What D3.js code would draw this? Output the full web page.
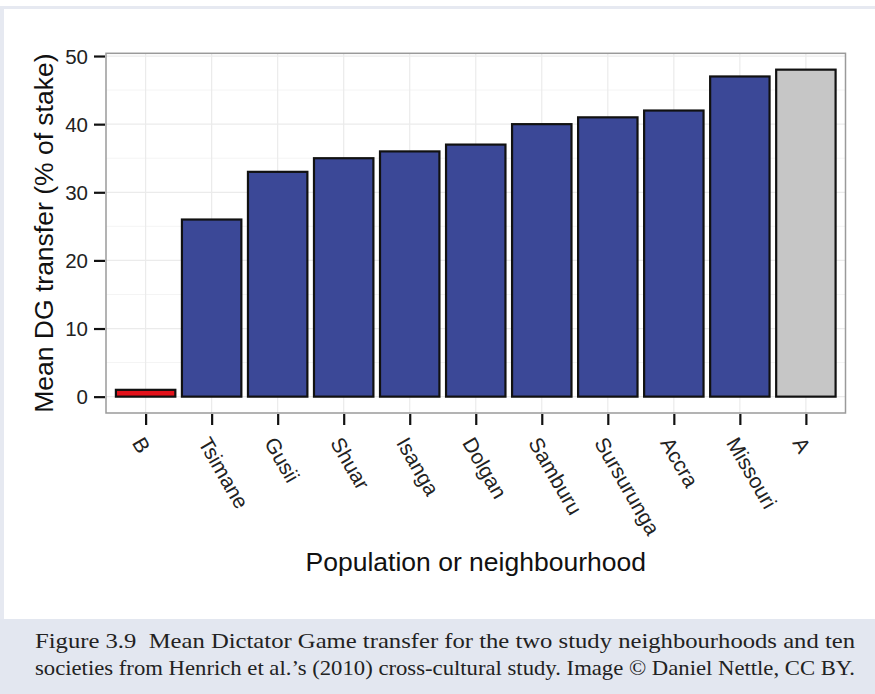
<!DOCTYPE html>
<html><head><meta charset="utf-8">
<script src="https://cdn.jsdelivr.net/npm/d3@7"></script>
<style>html,body{margin:0;padding:0;background:#fff;}svg{display:block;}</style>
</head><body>
<script>
const categories = ["B","Tsimane","Gusii","Shuar","Isanga","Dolgan","Samburu","Sursurunga","Accra","Missouri","A"];
const values = [1,26,33,35,36,37,40,41,42,47,48];
const groups = ["B","other","other","other","other","other","other","other","other","other","A"];
const yTicks = [0,10,20,30,40,50];
const yMinor = [5,15,25,35,45];
const yTitle = "Mean DG transfer (% of stake)";
const xTitle = "Population or neighbourhood";
const captionLines = [
  "Figure 3.9  Mean Dictator Game transfer for the two study neighbourhoods and ten",
  "societies from Henrich et al.\u2019s (2010) cross-cultural study. Image \u00A9 Daniel Nettle, CC BY."
];

const W = 875, H = 694;
const svg = d3.select("body").append("svg").attr("width", W).attr("height", H);

// page frame
svg.append("rect").attr("x",0).attr("y",0).attr("width",W).attr("height",H).attr("fill","#fff");
svg.append("rect").attr("x",0).attr("y",6).attr("width",W).attr("height",3).attr("fill","#e6e9f1");
svg.append("rect").attr("x",0).attr("y",6).attr("width",4).attr("height",H-6).attr("fill","#e6e9f1");
svg.append("rect").attr("x",0).attr("y",619).attr("width",W).attr("height",H-619).attr("fill","#e3e7f0");

const panel = {left:106, right:845.5, top:53.3, bottom:413};
const ext = d3.extent([0, d3.max(values)]);
const pad = (ext[1]-ext[0])*0.05;
const y = d3.scaleLinear().domain([ext[0]-pad, ext[1]+pad]).range([panel.bottom, panel.top]);
const n = categories.length;
const step = (panel.right-panel.left)/(n-1+1.2);
const xc = d3.scalePoint().domain(categories).range([panel.left+0.6*step, panel.right-0.6*step]);
const bw = step*0.9;

const colour = d3.scaleOrdinal().domain(["B","other","A"]).range(["#e3121b","#3b4897","#c6c6c6"]);

// grid
const g = svg.append("g");
g.selectAll(".ymin").data(yMinor).join("line")
  .attr("x1",panel.left).attr("x2",panel.right)
  .attr("y1",d=>y(d)).attr("y2",d=>y(d)).attr("stroke","#f4f4f4").attr("stroke-width",1);
g.selectAll(".ymaj").data(yTicks).join("line")
  .attr("x1",panel.left).attr("x2",panel.right)
  .attr("y1",d=>y(d)).attr("y2",d=>y(d)).attr("stroke","#ebebeb").attr("stroke-width",1.2);
g.selectAll(".xmaj").data(categories).join("line")
  .attr("x1",d=>xc(d)).attr("x2",d=>xc(d))
  .attr("y1",panel.top).attr("y2",panel.bottom).attr("stroke","#ebebeb").attr("stroke-width",1.2);

// bars
svg.append("g").selectAll("rect").data(categories).join("rect")
  .attr("x",(d)=>xc(d)-bw/2)
  .attr("width",bw)
  .attr("y",(d,i)=>y(values[i]))
  .attr("height",(d,i)=>y(0)-y(values[i]))
  .attr("fill",(d,i)=>colour(groups[i]))
  .attr("stroke","#111").attr("stroke-width",2.2);

// panel border
svg.append("rect").attr("x",panel.left).attr("y",panel.top)
  .attr("width",panel.right-panel.left).attr("height",panel.bottom-panel.top)
  .attr("fill","none").attr("stroke","#9a9a9a").attr("stroke-width",1.5);

// y axis
const yAxis = d3.axisLeft(y).tickValues(yTicks).tickSize(11).tickPadding(6);
const ya = svg.append("g").attr("transform",`translate(${panel.left-1},0)`).call(yAxis);
ya.select(".domain").remove();
ya.selectAll(".tick line").attr("stroke","#111").attr("stroke-width",2.2);
ya.selectAll(".tick text").attr("font-family","Liberation Sans, Arial, sans-serif")
  .attr("font-size",20.5).attr("fill","#222").attr("dy","0.34em");

// x axis
const xAxis = d3.axisBottom(xc).tickSize(11).tickPadding(0);
const xa = svg.append("g").attr("transform",`translate(0,${panel.bottom+1})`).call(xAxis);
xa.select(".domain").remove();
xa.selectAll(".tick line").attr("stroke","#111").attr("stroke-width",2.2);
xa.selectAll(".tick text")
  .attr("font-family","Liberation Sans, Arial, sans-serif").attr("font-size",21).attr("fill","#222")
  .attr("text-anchor","start").attr("dominant-baseline","central")
  .attr("x",0).attr("y",0).attr("dy",null)
  .attr("transform","translate(-8,25) rotate(60)");

// titles
svg.append("text").attr("transform",`translate(53,${(panel.top+panel.bottom)/2}) rotate(-90)`)
  .attr("text-anchor","middle").attr("font-family","Liberation Sans, Arial, sans-serif")
  .attr("font-size",26.5).attr("fill","#111").text(yTitle);
svg.append("text").attr("x",(panel.left+panel.right)/2).attr("y",571)
  .attr("text-anchor","middle").attr("font-family","Liberation Sans, Arial, sans-serif")
  .attr("font-size",26.5).attr("fill","#111").text(xTitle);

// caption
svg.selectAll(".cap").data(captionLines).join("text")
  .attr("x",35).attr("y",(d,i)=>648+i*27)
  .style("white-space","pre")
  .attr("font-family","Liberation Serif, DejaVu Serif, serif").attr("font-size",21).attr("fill","#222")
  .attr("textLength",820).attr("lengthAdjust","spacingAndGlyphs")
  .text(d=>d);
</script>
</body></html>
